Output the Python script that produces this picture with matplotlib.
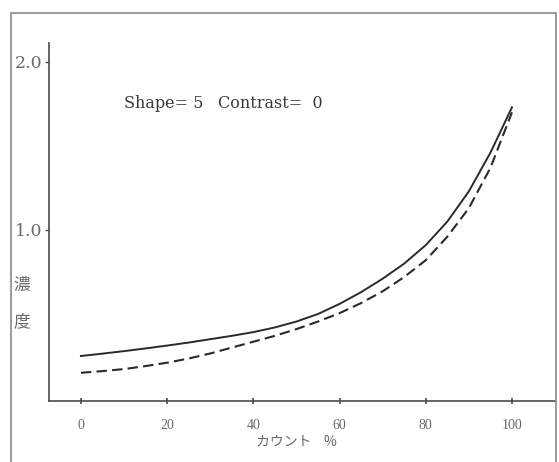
import numpy as np
import matplotlib.pyplot as plt
from matplotlib.patches import Rectangle

## DATA
#
count = [0, 5, 10, 15, 20, 25, 30, 35, 40, 45, 50,
         55, 60, 65, 70, 75, 80, 85, 90, 95, 100]  # %
solid = [0.25, 0.264, 0.279, 0.295, 0.312, 0.330, 0.350, 0.370, 0.392, 0.420,
         0.455, 0.50, 0.56, 0.63, 0.71, 0.80, 0.91, 1.05, 1.23, 1.46, 1.73]
dashed = [0.15, 0.16, 0.172, 0.19, 0.21, 0.235, 0.265, 0.30, 0.335, 0.37,
          0.41, 0.455, 0.505, 0.565, 0.635, 0.72, 0.82, 0.96, 1.13, 1.37, 1.70]
xticks = [0, 20, 40, 60, 80, 100]
yticks = [1.0, 2.0]
ytick_labels = ['1.0', '2.0']

ink = '#2a2a2a'
grey = '#6a6a6a'

fig = plt.figure(figsize=(5.59, 4.62), dpi=100)
ax = fig.add_axes([0.0877, 0.132, 0.9053, 0.775])

# the two density curves
ax.plot(count, solid, color=ink, lw=1.4)
ax.plot(count, dashed, color=ink, lw=1.5, dashes=(5, 2.5))

ax.set_xlim(-7.4, 110)
ax.set_ylim(-0.018, 2.113)

# only left and bottom axis lines, like the scan
ax.spines['top'].set_visible(False)
ax.spines['right'].set_visible(False)
for s in ('left', 'bottom'):
    ax.spines[s].set_color('#4a4a4a')
    ax.spines[s].set_linewidth(1.2)

ax.set_xticks(xticks)
ax.set_xticklabels([str(v) for v in xticks], family='Liberation Serif',
                   fontsize=10, color=grey)
ax.set_yticks(yticks)
ax.set_yticklabels(ytick_labels, family='DejaVu Serif', fontsize=12.5,
                   color=grey)
ax.tick_params(axis='x', direction='inout', length=4, width=1.2,
               color='#4a4a4a', pad=11)
ax.tick_params(axis='y', direction='out', length=3, width=1,
               color='#4a4a4a', pad=2)

# axis titles
ax.set_xlabel('カウント    %', family=['Noto Sans CJK JP', 'DejaVu Sans'],
              fontsize=10, color=grey)
ax.xaxis.set_label_coords((296 - 49) / 506, -0.095)
fig.text(22 / 559, 1 - 285 / 462, '濃', family='Noto Sans CJK JP',
         fontsize=12, color=grey, ha='center', va='center')
fig.text(22 / 559, 1 - 322 / 462, '度', family='Noto Sans CJK JP',
         fontsize=12, color=grey, ha='center', va='center')

# annotation
fig.text(124 / 559, 1 - 103 / 462, 'Shape= 5', family='DejaVu Serif',
         fontsize=11.5, color='#3a3a3a', ha='left', va='center')
fig.text(218 / 559, 1 - 103 / 462, 'Contrast=  0', family='DejaVu Serif',
         fontsize=11.5, color='#3a3a3a', ha='left', va='center')

# frame round the whole figure
fig.patches.append(Rectangle((11 / 559, -2 / 462), 545 / 559, 451 / 462,
                             transform=fig.transFigure, fill=False,
                             edgecolor='#8a8a8a', lw=1.2))

fig.savefig('out.png', dpi=100)
